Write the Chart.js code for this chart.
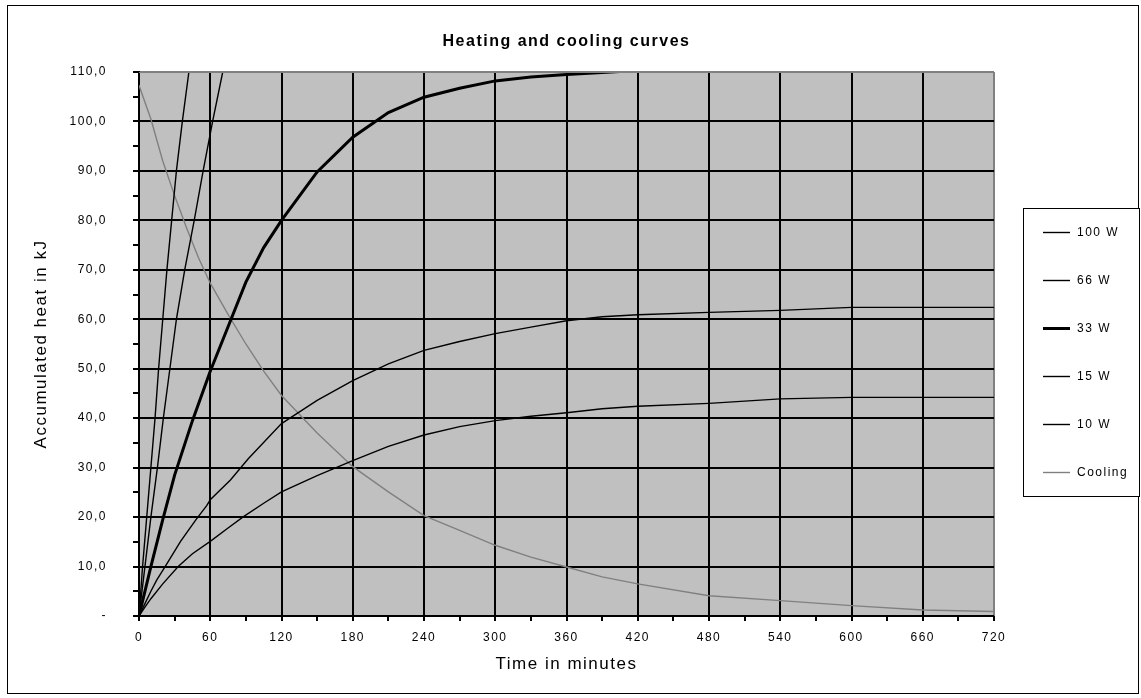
<!DOCTYPE html>
<html>
<head>
<meta charset="utf-8">
<script src="https://cdn.jsdelivr.net/npm/chart.js@4/dist/chart.umd.min.js"></script>
<style>
  body { margin: 0; background: #fff; }
  #wrap { width: 1141px; height: 698px; }
</style>
</head>
<body>
<div id="wrap"><canvas id="heatChart" width="1141" height="698"></canvas></div>
<script>
// Readings taken off the reference curves (time in minutes, heat in kJ)
const heat100Time = [0, 3, 6.5, 10, 13.5, 16.5, 20, 23.5, 27.5, 31.5, 36.5, 42, 45];
const heat100Kj   = [0, 10, 20, 30, 40, 50, 60, 70, 80, 90, 100, 110, 115];

const heat66Time = [0, 5, 10, 15.5, 20.5, 26, 31.5, 38.5, 46.5, 54, 62, 70.5, 74];
const heat66Kj   = [0, 10, 20, 30, 40, 50, 60, 70, 80, 90, 100, 110, 115];

const heat33Time = [0, 10, 20, 30, 45, 60, 75, 90, 105, 120, 150, 180, 210, 240, 270, 300, 330, 360, 390, 420];
const heat33Kj   = [0, 10, 19.5, 28.5, 39.5, 49.5, 58.5, 67.5, 74.5, 80, 89.8, 96.8, 101.8, 104.9, 106.7, 108.2, 109, 109.5, 109.9, 110.3];

const heat15Time = [0, 5, 10, 15, 22, 35, 48, 57, 60, 77, 92, 120, 150, 180, 210, 240, 270, 300, 330, 360, 390, 420, 480, 540, 600, 660, 720];
const heat15Kj   = [0, 2.5, 5, 7.3, 10, 15.1, 19.5, 22.3, 23.5, 27.5, 31.8, 38.9, 43.6, 47.6, 51, 53.7, 55.5, 57.1, 58.4, 59.7, 60.5, 60.9, 61.4, 61.8, 62.4, 62.4, 62.4];

const heat10Time = [0, 5, 10, 20, 33, 45, 60, 75, 88, 105, 120, 150, 180, 210, 240, 270, 300, 330, 360, 390, 420, 480, 540, 600, 660, 720];
const heat10Kj   = [0, 1.8, 3.5, 6.5, 10, 12.6, 15.1, 17.8, 20.1, 22.8, 25.1, 28.4, 31.4, 34.3, 36.6, 38.3, 39.5, 40.4, 41.1, 41.9, 42.4, 43, 43.9, 44.2, 44.2, 44.2];

const coolTime = [0, 10, 20, 30, 40, 50, 60, 75, 90, 105, 120, 150, 180, 210, 240, 270, 300, 330, 360, 390, 420, 480, 540, 600, 660, 720];
const coolKj   = [107.3, 100.5, 92, 85, 78.5, 72.5, 67.3, 61, 55, 49.5, 44.6, 37, 30.2, 25.1, 20.3, 17.3, 14.3, 11.9, 9.9, 7.9, 6.5, 4.1, 3.1, 2.1, 1.2, 0.9];

const seriesLabels = ['100 W', '66 W', '33 W', '15 W', '10 W', 'Cooling'];

const fontFamily = '"Liberation Sans", Arial, sans-serif';
const textSpacing = '1.5px'; // the old chart font runs wide

function toPoints(times, values) {
    return times.map((t, i) => ({ x: t, y: values[i] }));
}

function makeSeries(label, times, values, color, width) {
    return {
        label: label,
        data: toPoints(times, values),
        borderColor: color,
        backgroundColor: color,
        borderWidth: width,
        pointRadius: 0,
        tension: 0,
        fill: false,
        clip: 0
    };
}

// wide letter spacing for every bit of text on the canvas
const wideText = {
    id: 'wideText',
    beforeUpdate(chart) { chart.ctx.letterSpacing = textSpacing; },
    beforeLayout(chart) { chart.ctx.letterSpacing = textSpacing; },
    beforeDraw(chart) { chart.ctx.letterSpacing = textSpacing; }
};

// gray plot background + gray top/right edge + outer frame
const frameBits = {
    id: 'frameBits',
    beforeDraw(chart) {
        const { ctx, chartArea: a } = chart;
        ctx.save();
        ctx.fillStyle = '#c0c0c0';
        ctx.fillRect(a.left, a.top, a.right - a.left, a.bottom - a.top);
        ctx.strokeStyle = '#000';
        ctx.lineWidth = 1;
        ctx.strokeRect(7.5, 5.5, 1131, 688);
        ctx.restore();
    },
    afterDatasetsDraw(chart) {
        const { ctx, chartArea: a } = chart;
        ctx.save();
        ctx.strokeStyle = '#808080';
        ctx.lineWidth = 1;
        ctx.beginPath();
        ctx.moveTo(a.left, a.top + 0.5);
        ctx.lineTo(a.right + 0.5, a.top + 0.5);
        ctx.lineTo(a.right + 0.5, a.bottom);
        ctx.stroke();
        ctx.restore();
    }
};

// boxed legend at the right, built from the datasets
const boxLegend = {
    id: 'boxLegend',
    afterDraw(chart) {
        const ctx = chart.ctx;
        const left = 1023, top = 208, width = 117, height = 289;
        const firstY = 232, step = 48;
        ctx.save();
        ctx.fillStyle = '#fff';
        ctx.fillRect(left, top, width, height);
        ctx.strokeStyle = '#000';
        ctx.lineWidth = 1;
        ctx.strokeRect(left + 0.5, top + 0.5, width - 1, height - 1);
        ctx.font = '12px ' + fontFamily;
        ctx.textBaseline = 'middle';
        ctx.textAlign = 'left';
        chart.data.datasets.forEach((ds, i) => {
            const y = Math.round(firstY + i * step) + 0.5;
            ctx.strokeStyle = ds.borderColor;
            ctx.lineWidth = ds.borderWidth;
            ctx.beginPath();
            ctx.moveTo(1043, y);
            ctx.lineTo(1070, y);
            ctx.stroke();
            ctx.fillStyle = '#000';
            ctx.fillText(ds.label, 1077, y);
        });
        ctx.restore();
    }
};

const ctx = document.getElementById('heatChart').getContext('2d');

new Chart(ctx, {
    type: 'line',
    data: {
        datasets: [
            makeSeries(seriesLabels[0], heat100Time, heat100Kj, '#000', 1.4),
            makeSeries(seriesLabels[1], heat66Time, heat66Kj, '#000', 1.4),
            makeSeries(seriesLabels[2], heat33Time, heat33Kj, '#000', 3),
            makeSeries(seriesLabels[3], heat15Time, heat15Kj, '#000', 1.4),
            makeSeries(seriesLabels[4], heat10Time, heat10Kj, '#000', 1.4),
            makeSeries(seriesLabels[5], coolTime, coolKj, '#808080', 1.4)
        ]
    },
    options: {
        responsive: false,
        animation: false,
        layout: {
            padding: { left: 0, right: 147, top: 0, bottom: 0 }
        },
        plugins: {
            legend: { display: false },
            tooltip: { enabled: false },
            title: {
                display: true,
                fullSize: false,
                text: 'Heating and cooling curves',
                color: '#000',
                font: { family: fontFamily, size: 16, weight: 'bold', lineHeight: 1.2 },
                padding: { top: 32.4, bottom: 20.4 }
            }
        },
        scales: {
            x: {
                type: 'linear',
                min: 0,
                max: 720,
                afterFit: (scale) => { scale.height = 82; },
                ticks: {
                    stepSize: 30,
                    autoSkip: false,
                    maxRotation: 0,
                    color: '#000',
                    padding: 9,
                    font: { family: fontFamily, size: 12 },
                    callback: (v) => (v % 60 === 0 ? String(v) : '')
                },
                grid: {
                    color: (c) => {
                        const v = c.tick ? c.tick.value : 0;
                        if (v === 720) return '#808080';
                        return v % 60 === 0 ? '#000' : 'rgba(0,0,0,0)';
                    },
                    tickColor: '#000',
                    tickLength: 5,
                    lineWidth: 2
                },
                border: { color: '#000', width: 2 },
                title: {
                    display: true,
                    text: 'Time in minutes',
                    color: '#000',
                    font: { family: fontFamily, size: 17, lineHeight: 1.2 },
                    padding: { top: 0, bottom: 23.8 }
                }
            },
            y: {
                min: 0,
                max: 110,
                afterFit: (scale) => { scale.width = 139; },
                ticks: {
                    stepSize: 5,
                    autoSkip: false,
                    color: '#000',
                    padding: 26,
                    font: { family: fontFamily, size: 12 },
                    callback: (v) => {
                        if (v % 10 !== 0) return '';
                        if (v === 0) return '-';
                        return v.toFixed(1).replace('.', ',');
                    }
                },
                grid: {
                    color: (c) => {
                        const v = c.tick ? c.tick.value : 0;
                        if (v === 110) return '#808080';
                        return v % 10 === 0 ? '#000' : 'rgba(0,0,0,0)';
                    },
                    tickColor: '#000',
                    tickLength: 6,
                    lineWidth: 2
                },
                border: { color: '#000', width: 2 },
                title: {
                    display: true,
                    text: 'Accumulated heat in kJ',
                    color: '#000',
                    font: { family: fontFamily, size: 17, lineHeight: 1.2 },
                    padding: { top: 30.8, bottom: 0 }
                }
            }
        }
    },
    plugins: [wideText, frameBits, boxLegend]
});
</script>
</body>
</html>
